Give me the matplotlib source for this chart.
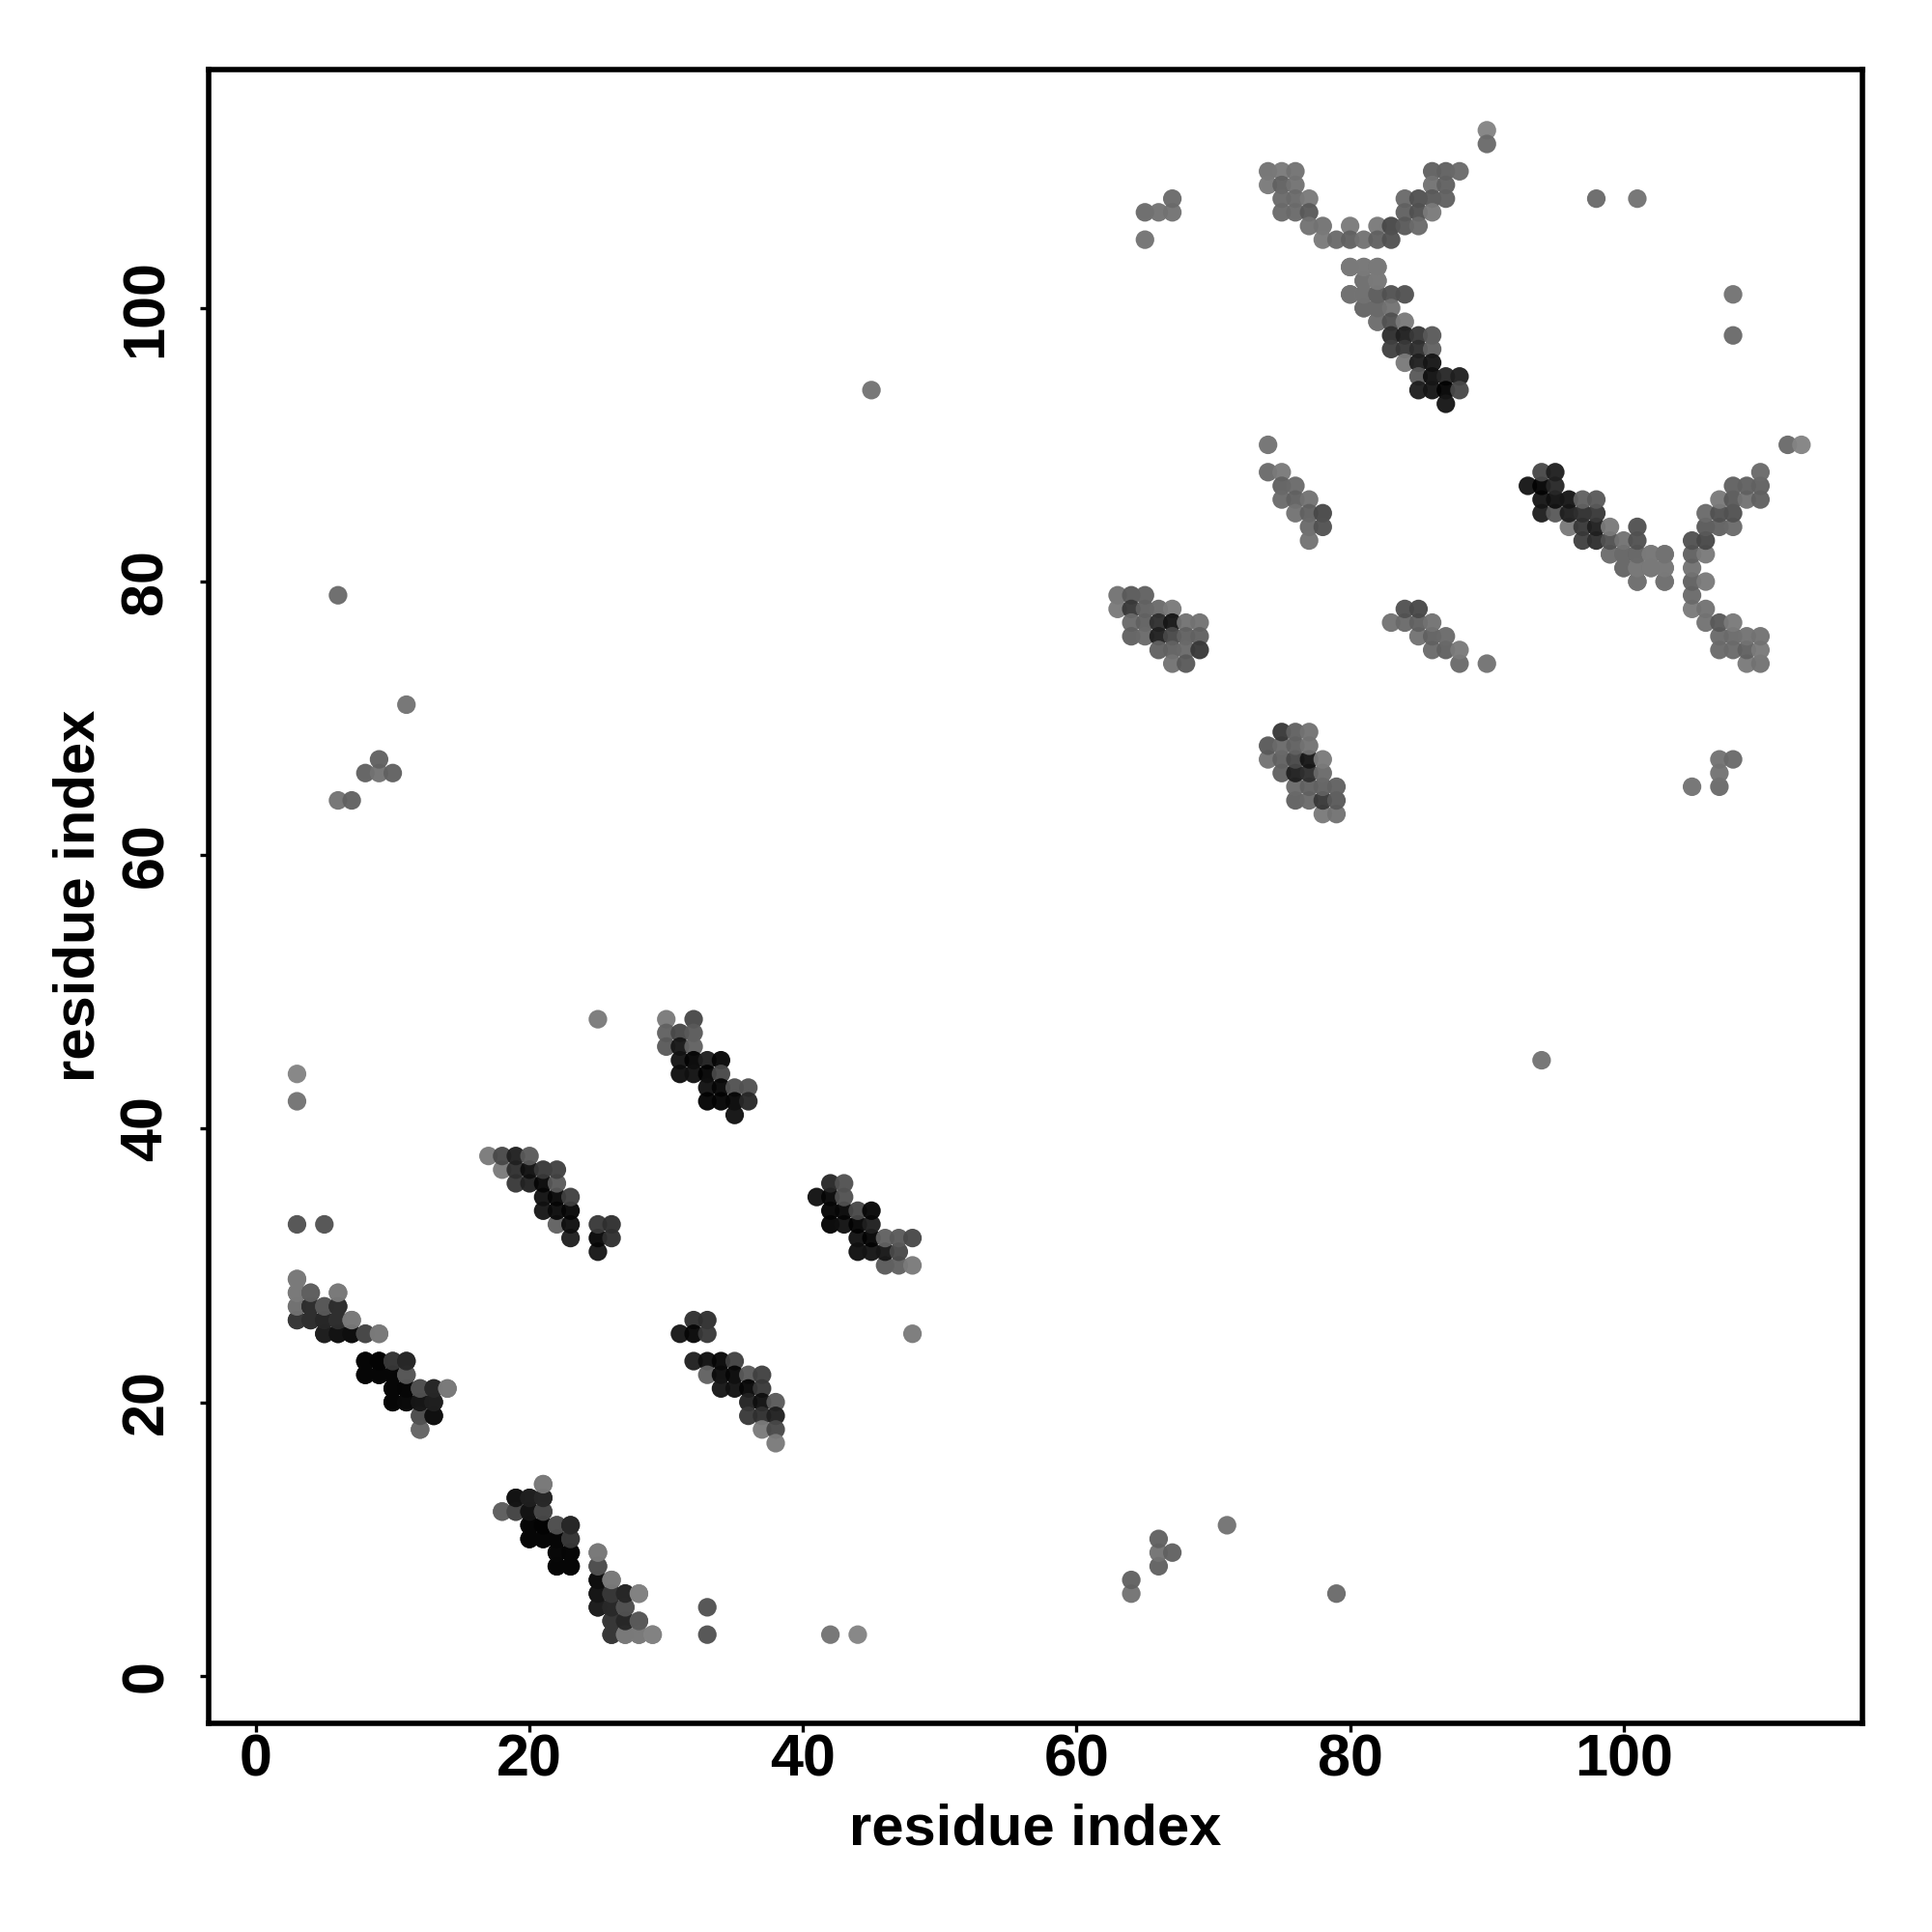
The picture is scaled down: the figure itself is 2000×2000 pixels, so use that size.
import matplotlib
matplotlib.use('Agg')
import matplotlib.pyplot as plt
import numpy as np

# contacts, one triangle only, the other one is mirrored below
# read row by row from the map, grey is the level seen in the picture
res_a = [
    3,
    3, 4, 6,
    3, 4, 5, 6,
    3, 4, 5, 6, 7,
    5, 6, 7, 8, 9,
    8, 9, 10, 11,
    8, 9, 10, 11,
    10, 11, 12, 13, 14,
    10, 11, 12, 13,
    12, 13,
    12,
    # 18-23 / 8-14
    21,
    19, 20, 21,
    18, 19, 20, 21,
    20, 21, 22, 23,
    20, 21, 22, 23,
    22, 23,
    22, 23,
    # 25-29 / 3-9
    25,
    25,
    25, 26,
    25, 26, 27, 28,
    25, 26, 27,
    26, 27, 28,
    26, 27, 28, 29,
    # 30-36 / 41-48
    30, 32,
    30, 31, 32,
    30, 31, 32,
    31, 32, 33, 34,
    31, 32, 33, 34,
    33, 34, 35, 36,
    33, 34, 35, 36,
    35,
    # 31-38 / 17-26
    32, 33,
    31, 32, 33,
    32, 33, 34, 35,
    33, 34, 35, 36, 37,
    34, 35, 36, 37,
    36, 37, 38,
    36, 37, 38,
    37, 38,
    38,
    # singles
    25, 3, 3, 3, 5,
    6, 11, 6, 7, 8, 9, 10, 9,
    45,
    65, 65, 66, 67, 67, 98, 101,
    # 74-78 / 83-90
    74,
    74, 75,
    75, 76,
    75, 76, 77,
    76, 77, 78,
    77, 78,
    77,
    # 63-69 / 74-79
    63, 64, 65,
    63, 64, 65, 66, 67,
    64, 65, 66, 67, 68, 69,
    64, 65, 66, 67, 68, 69,
    66, 67, 68, 69,
    67, 68,
    # top arms
    90, 90,
    74, 75, 76, 86, 87, 88,
    74, 75, 76, 86, 87,
    75, 76, 77, 84, 85, 86, 87,
    75, 76, 77, 84, 85, 86,
    77, 78, 80, 82, 83, 84, 85,
    78, 79, 80, 81, 82, 83,
    # 80-88 / 93-103
    80, 81, 82,
    81, 82,
    80, 81, 82, 83, 84,
    81, 82, 83,
    82, 83, 84,
    83, 84, 85, 86,
    83, 84, 85, 86,
    84, 85, 86,
    85, 86, 87, 88,
    85, 86, 87, 88,
    87,
    # 99-103 / 80-82
    99, 100, 101, 102, 103,
    100, 101, 102, 103,
    101, 103,
]
res_b = [
    29,
    28, 28, 28,
    27, 27, 27, 27,
    26, 26, 26, 26, 26,
    25, 25, 25, 25, 25,
    23, 23, 23, 23,
    22, 22, 22, 22,
    21, 21, 21, 21, 21,
    20, 20, 20, 20,
    19, 19,
    18,
    14,
    13, 13, 13,
    12, 12, 12, 12,
    11, 11, 11, 11,
    10, 10, 10, 10,
    9, 9,
    8, 8,
    9,
    8,
    7, 7,
    6, 6, 6, 6,
    5, 5, 5,
    4, 4, 4,
    3, 3, 3, 3,
    48, 48,
    47, 47, 47,
    46, 46, 46,
    45, 45, 45, 45,
    44, 44, 44, 44,
    43, 43, 43, 43,
    42, 42, 42, 42,
    41,
    26, 26,
    25, 25, 25,
    23, 23, 23, 23,
    22, 22, 22, 22, 22,
    21, 21, 21, 21,
    20, 20, 20,
    19, 19, 19,
    18, 18,
    17,
    48, 44, 42, 33, 33,
    79, 71, 64, 64, 66, 66, 66, 67,
    94,
    105, 107, 107, 107, 108, 108, 108,
    90,
    88, 88,
    87, 87,
    86, 86, 86,
    85, 85, 85,
    84, 84,
    83,
    79, 79, 79,
    78, 78, 78, 78, 78,
    77, 77, 77, 77, 77, 77,
    76, 76, 76, 76, 76, 76,
    75, 75, 75, 75,
    74, 74,
    113, 112,
    110, 110, 110, 110, 110, 110,
    109, 109, 109, 109, 109,
    108, 108, 108, 108, 108, 108, 108,
    107, 107, 107, 107, 107, 107,
    106, 106, 106, 106, 106, 106, 106,
    105, 105, 105, 105, 105, 105,
    103, 103, 103,
    102, 102,
    101, 101, 101, 101, 101,
    100, 100, 100,
    99, 99, 99,
    98, 98, 98, 98,
    97, 97, 97, 97,
    96, 96, 96,
    95, 95, 95, 95,
    94, 94, 94, 94,
    93,
    82, 82, 82, 82, 82,
    81, 81, 81, 81,
    80, 80,
]
grey = [
    0x80,
    0x78, 0x58, 0x80,
    0x78, 0x28, 0x50, 0x28,
    0x38, 0x38, 0x2a, 0x38, 0x78,
    0x20, 0x18, 0x10, 0x50, 0x78,
    0x08, 0x08, 0x38, 0x28,
    0x08, 0x0a, 0x08, 0x50,
    0x08, 0x05, 0x48, 0x28, 0x78,
    0x08, 0x08, 0x15, 0x20,
    0x48, 0x15,
    0x60,
    0x78,
    0x12, 0x20, 0x28,
    0x68, 0x50, 0x18, 0x50,
    0x0c, 0x08, 0x58, 0x28,
    0x08, 0x08, 0x08, 0x38,
    0x08, 0x05,
    0x08, 0x08,
    0x78,
    0x48,
    0x10, 0x78,
    0x15, 0x30, 0x30, 0x78,
    0x20, 0x28, 0x58,
    0x30, 0x30, 0x60,
    0x38, 0x70, 0x78, 0x78,
    0x78, 0x48,
    0x60, 0x48, 0x58,
    0x58, 0x18, 0x60,
    0x15, 0x05, 0x20, 0x08,
    0x10, 0x12, 0x05, 0x48,
    0x12, 0x08, 0x50, 0x50,
    0x05, 0x05, 0x08, 0x28,
    0x12,
    0x30, 0x30,
    0x18, 0x08, 0x38,
    0x20, 0x10, 0x08, 0x40,
    0x60, 0x0c, 0x08, 0x58, 0x40,
    0x18, 0x12, 0x08, 0x38,
    0x22, 0x10, 0x58,
    0x38, 0x30, 0x20,
    0x78, 0x48,
    0x78,
    0x78, 0x80, 0x70, 0x50, 0x50,
    0x68, 0x70, 0x70, 0x60, 0x60, 0x70, 0x60, 0x60,
    0x70,
    0x70, 0x68, 0x70, 0x70, 0x68, 0x68, 0x70,
    0x70,
    0x68, 0x78,
    0x60, 0x68,
    0x68, 0x60, 0x70,
    0x70, 0x60, 0x48,
    0x68, 0x50,
    0x70,
    0x70, 0x58, 0x60,
    0x78, 0x38, 0x60, 0x68, 0x78,
    0x68, 0x60, 0x30, 0x18, 0x70, 0x70,
    0x60, 0x68, 0x20, 0x48, 0x60, 0x60,
    0x60, 0x60, 0x68, 0x38,
    0x70, 0x58,
    0x80, 0x68,
    0x70, 0x78, 0x70, 0x60, 0x60, 0x68,
    0x78, 0x60, 0x70, 0x70, 0x60,
    0x68, 0x68, 0x78, 0x68, 0x50, 0x58, 0x60,
    0x68, 0x68, 0x58, 0x60, 0x50, 0x78,
    0x70, 0x70, 0x78, 0x78, 0x48, 0x58, 0x68,
    0x78, 0x68, 0x60, 0x70, 0x60, 0x50,
    0x70, 0x78, 0x70,
    0x78, 0x78,
    0x70, 0x78, 0x68, 0x50, 0x50,
    0x68, 0x68, 0x70,
    0x70, 0x50, 0x78,
    0x30, 0x20, 0x38, 0x58,
    0x40, 0x38, 0x30, 0x60,
    0x78, 0x20, 0x18,
    0x58, 0x12, 0x28, 0x20,
    0x20, 0x18, 0x05, 0x48,
    0x18,
    0x70, 0x68, 0x60, 0x78, 0x78,
    0x68, 0x70, 0x70, 0x78,
    0x70, 0x78,
]
ticks = [0, 20, 40, 60, 80, 100]

a = np.array(res_a)
b = np.array(res_b)
g = np.array(grey) / 255.0

# both triangles, the map is symmetric
x = np.concatenate([a, b])
y = np.concatenate([b, a])
g2 = np.concatenate([g, g])
order = np.argsort(x, kind='stable')

# points only slightly see-through, overlaps stay subtle
alpha = 0.96
face = np.clip((g2 + 0.03 - (1 - alpha)) / alpha, 0, 1)
colors = [(c, c, c, alpha) for c in face[order]]

plt.rcParams['font.family'] = ['Liberation Sans', 'DejaVu Sans']
fig = plt.figure(figsize=(10, 10), dpi=200)
ax = fig.add_axes([216 / 2000, 1 - 1783.5 / 2000, (1928 - 216) / 2000, (1783.5 - 72) / 2000])
ax.scatter(x[order], y[order], s=48, c=colors, linewidths=0)

ax.set_xlim(-3.46, 117.46)
ax.set_ylim(-3.45, 117.44)
ax.set_xticks(ticks)
ax.set_yticks(ticks)
ax.tick_params(axis='both', length=3.1, width=1.2, labelsize=22)
ax.tick_params(axis='x', pad=1)
ax.tick_params(axis='y', pad=9.5)
for t in ax.get_xticklabels():
    t.set_fontweight('bold')
for t in ax.get_yticklabels():
    t.set_fontweight('bold')
    t.set_rotation(90)
    t.set_va('center')
for s in ax.spines.values():
    s.set_linewidth(2)
ax.set_xlabel('residue index', fontsize=21.5, fontweight='bold', va='center')
ax.set_ylabel('residue index', fontsize=21.5, fontweight='bold', va='center')
ax.xaxis.set_label_coords(0.5, -0.0645)
ax.yaxis.set_label_coords(-0.0783, 0.5)

fig.savefig('out.png', dpi=200)
